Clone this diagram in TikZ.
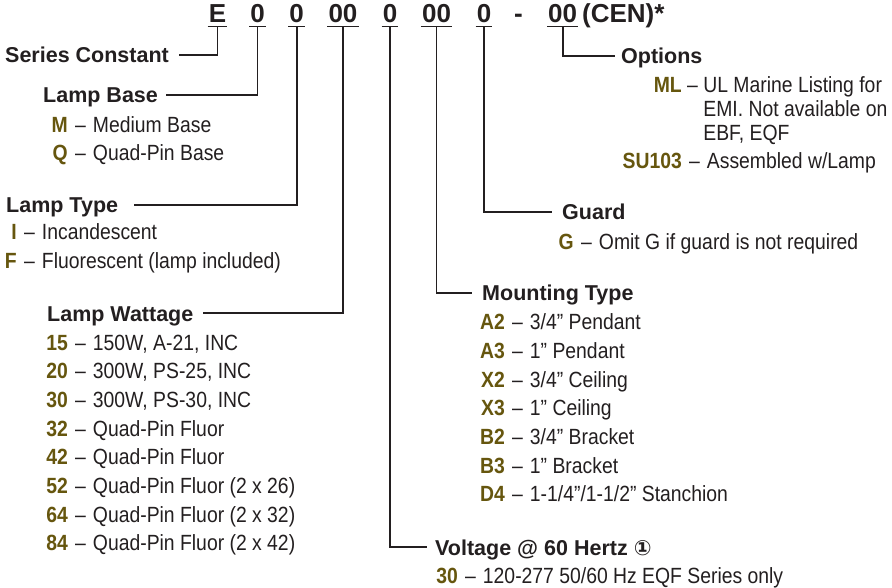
\documentclass[tikz,border=0pt]{standalone}
\usepackage{fontspec}
\setmainfont{Liberation Sans}
\newfontfamily\condf[FakeStretch=0.88]{Liberation Sans}
\newfontfamily\condb[FakeStretch=0.88]{Liberation Sans Bold}
\newfontfamily\symf{DejaVu Sans}
\usetikzlibrary{calc}
\definecolor{ink}{RGB}{35,31,32}
\definecolor{olive}{RGB}{102,86,14}
\tikzset{
  codepart/.style={anchor=base, inner sep=0pt, font=\fontsize{26}{30}\selectfont\bfseries, text=ink},
  heading/.style={anchor=base west, inner sep=0pt, font=\fontsize{21.5}{25}\selectfont\bfseries, text=ink},
  code/.style={anchor=base east, inner sep=0pt, font=\fontsize{22}{24}\condb, text=olive},
  desc/.style={anchor=base west, inner sep=0pt, font=\fontsize{22}{24}\condf, text=ink},
  conn/.style={draw=ink, line width=1.8pt},
  uline/.style={draw=ink, line width=1.6pt},
}
\newcommand\specitem[5]{%
  \node[code] (#1c) at (#2,#3) {#4};
  \node[desc] (#1d) at (#2,#3) {\kern7pt–\kern7pt#5};
}
\begin{document}
\begin{tikzpicture}[x=1pt,y=-1pt]
\fill[white] (0,0) rectangle (892,588);
\useasboundingbox (0,0) rectangle (892,588);
% code row
\node[codepart] (cE) at (217.5,23) {E};
\node[codepart] (c0a) at (257.5,23) {0};
\node[codepart] (c0b) at (296.7,23) {0};
\node[codepart] (c00a) at (343,23) {00};
\node[codepart] (c0c) at (390,23) {0};
\node[codepart] (c00b) at (436.5,23) {00};
\node[codepart] (c0d) at (484,23) {0};
\node[codepart] (cdash) at (518.5,23) {-};
\node[codepart] (c00c) at (562.7,23) {00};
\node[codepart, anchor=base west] (ccen) at (582,23) {(CEN)*};
\foreach \n in {cE,c0a,c0b,c00a,c0c,c00b,c0d,c00c}{
  \draw[uline] ($(\n.base west)+(-1,3.5)$) -- ($(\n.base east)+(1,3.5)$);
}
% headings
\node[heading] (hSeries) at (5,63) {Series Constant};
\node[heading] (hBase) at (43,103) {Lamp Base};
\node[heading] (hType) at (6,213) {Lamp Type};
\node[heading] (hWatt) at (47,321) {Lamp Wattage};
\node[heading] (hOpt) at (621,64) {Options};
\node[heading] (hGuard) at (562,220) {Guard};
\node[heading] (hMount) at (482,301) {Mounting Type};
\node[heading] (hVolt) at (435,555) {Voltage @ 60 Hertz\kern6pt{\symf\fontsize{21}{22}\selectfont ①}};
% connectors
\draw[conn] ($(cE.base)+(0,3.5)$) |- ($(hSeries.base east)+(10,-8)$);
\draw[conn] ($(c0a.base)+(0,3.5)$) |- ($(hBase.base east)+(8,-8)$);
\draw[conn] ($(c0b.base)+(0,3.5)$) |- ($(hType.base east)+(16,-8)$);
\draw[conn] ($(c00a.base)+(0,3.5)$) |- ($(hWatt.base east)+(9,-8)$);
\draw[conn] ($(c0c.base)+(0,3.5)$) |- ($(hVolt.base west)+(-8,-8)$);
\draw[conn] ($(c00b.base)+(0,3.5)$) |- ($(hMount.base west)+(-10,-8)$);
\draw[conn] ($(c0d.base)+(0,3.5)$) |- ($(hGuard.base west)+(-10,-8)$);
\draw[conn] ($(c00c.base)+(0,3.5)$) |- ($(hOpt.base west)+(-6,-8)$);
% Lamp Base
\specitem{m}{68}{132.5}{M}{Medium Base}
\specitem{q}{68}{161}{Q}{Quad-Pin Base}
% Lamp Type
\specitem{i}{17}{240}{I}{Incandescent}
\specitem{f}{17}{269}{F}{Fluorescent (lamp included)}
% Lamp Wattage
\specitem{w15}{68}{350}{15}{150W, A-21, INC}
\specitem{w20}{68}{378.7}{20}{300W, PS-25, INC}
\specitem{w30}{68}{407.4}{30}{300W, PS-30, INC}
\specitem{w32}{68}{436.1}{32}{Quad-Pin Fluor}
\specitem{w42}{68}{464.8}{42}{Quad-Pin Fluor}
\specitem{w52}{68}{493.5}{52}{Quad-Pin Fluor (2 x 26)}
\specitem{w64}{68}{522.2}{64}{Quad-Pin Fluor (2 x 32)}
\specitem{w84}{68}{550.9}{84}{Quad-Pin Fluor (2 x 42)}
% Mounting Type
\specitem{a2}{505}{330}{A2}{3/4” Pendant}
\specitem{a3}{505}{358.6}{A3}{1” Pendant}
\specitem{x2}{505}{387.2}{X2}{3/4” Ceiling}
\specitem{x3}{505}{415.8}{X3}{1” Ceiling}
\specitem{b2}{505}{444.4}{B2}{3/4” Bracket}
\specitem{b3}{505}{473}{B3}{1” Bracket}
\specitem{d4}{505}{501.6}{D4}{1-1/4”/1-1/2” Stanchion}
% Guard
\specitem{g}{574}{250}{G}{Omit G if guard is not required}
% Options
\node[code] (mlc) at (682,93) {ML};
\node[desc] (mld) at (682,93) {\kern5pt–\kern5pt};
\node[desc] (mlt1) at (mld.base east) {UL Marine Listing for};
\node[desc] (mlt2) at ($(mlt1.base west)+(0,24)$) {EMI. Not available on};
\node[desc] (mlt3) at ($(mlt2.base west)+(0,24)$) {EBF, EQF};
\specitem{su}{682}{169}{SU103}{Assembled w/Lamp}
% Voltage
\specitem{v30}{458}{583}{30}{120-277 50/60 Hz EQF Series only}
\end{tikzpicture}
\end{document}
